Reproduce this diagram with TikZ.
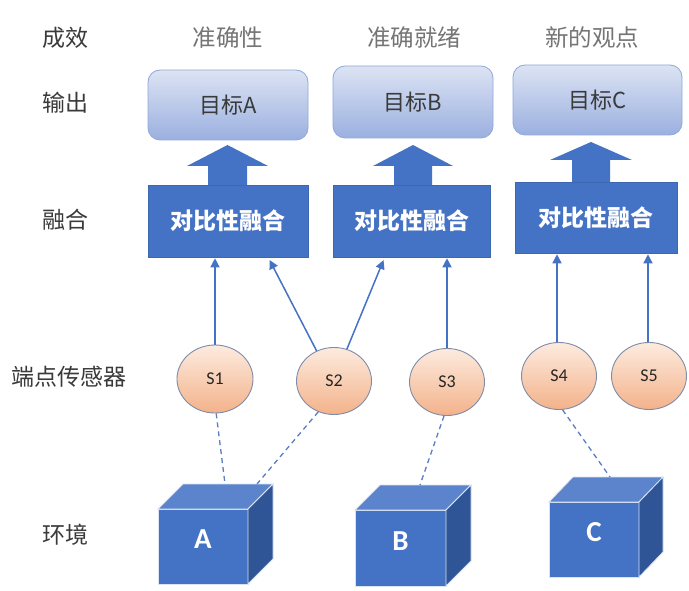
\documentclass[tikz,border=0pt]{standalone}
\usepackage{fontspec}
\setmainfont{Noto Sans CJK SC}
\newfontfamily\latinf{Carlito}
\usetikzlibrary{shapes.geometric,arrows.meta,calc}
\definecolor{mblue}{HTML}{4472C4}
\definecolor{dblue}{HTML}{2F5597}
\definecolor{tblue}{HTML}{5B84CC}
\definecolor{dashc}{HTML}{5B7DC2}
\definecolor{outtop}{HTML}{DCE3F3}
\definecolor{outbot}{HTML}{9BB0E0}
\definecolor{outedge}{HTML}{8EA9DB}
\definecolor{sentop}{HTML}{FDEBDF}
\definecolor{senbot}{HTML}{F3B28A}
\definecolor{senedge}{HTML}{7F8CA8}
\definecolor{lblc}{HTML}{3A3A3A}
\definecolor{topc}{HTML}{757575}
\tikzset{
  rowlabel/.style={text=lblc, font=\fontsize{23}{27}\selectfont, inner sep=0pt},
  toplabel/.style={text=topc, font=\fontsize{23.5}{27}\selectfont, inner sep=0pt},
  outbox/.style={rectangle, rounded corners=12pt, top color=outtop, bottom color=outbot,
    draw=outedge, line width=0.8pt, text=lblc, font=\fontsize{22}{26}\selectfont, inner sep=0pt},
  fusebox/.style={rectangle, fill=mblue, draw=mblue!90!black, line width=0.6pt, text=white,
    font=\fontsize{23}{27}\selectfont\bfseries, inner sep=0pt},
  sensor/.style={ellipse, top color=sentop, bottom color=senbot, draw=senedge, line width=0.9pt,
    minimum width=76pt, minimum height=68pt, inner sep=0pt, text=black!85,
    font=\latinf\fontsize{18}{20}\selectfont},
  conn/.style={draw=mblue, line width=1.5pt, -{Triangle[length=9pt,width=9pt]}},
  dconn/.style={draw=dashc, line width=1.3pt, dash pattern=on 5pt off 4pt},
  cubefront/.style={rectangle, fill=mblue, draw=white!80!mblue, line width=0.8pt, outer sep=0pt,
    inner sep=0pt, text=white, font=\latinf\bfseries\fontsize{28}{30}\selectfont},
  cubetop/.style={fill=tblue, draw=white!80!mblue, line width=0.8pt},
  cuberight/.style={fill=dblue, draw=white!80!mblue, line width=0.8pt},
  fatarrow/.style={fill=mblue},
}
\newcommand{\envcube}[7]{%
  \node[cubefront, minimum width=#4, minimum height=#5, anchor=north west] (#1) at (#2,#3) {};
  \fill[cubetop] (#1.north west) -- ++(#7,-25) -- ++(#4,0) -- (#1.north east) -- cycle;
  \fill[cuberight] (#1.north east) -- ++(#7,-25) -- ++(0,#5) -- (#1.south east) -- cycle;
  \node[text=white, font=\latinf\bfseries\fontsize{29}{31}\selectfont, inner sep=0pt]
    (#1t) at ($(#1.center)+(0,-7)$) {#6};
}
\newcommand{\blockarrow}[7]{% cx, bottom, base, tip, halfhead, halfstem, name
  \fill[fatarrow] (#1-#6,#2) -- (#1-#6,#3) -- (#1-#5,#3) -- (#1,#4) -- (#1+#5,#3)
    -- (#1+#6,#3) -- (#1+#6,#2) -- cycle;
}
\begin{document}
\begin{tikzpicture}[x=1pt,y=-1pt]
\useasboundingbox[fill=white] (0,0) rectangle (689,591);

% row labels
\node[rowlabel] (l1) at (65,38) {成效};
\node[rowlabel] (l2) at (65,103) {输出};
\node[rowlabel] (l3) at (65,220) {融合};
\node[rowlabel] (l4) at (69,377) {端点传感器};
\node[rowlabel] (l5) at (65,535) {环境};

% top labels
\node[toplabel] (t1) at (228,38) {准确性};
\node[toplabel] (t2) at (414,38) {准确就绪};
\node[toplabel] (t3) at (592,38) {新的观点};

% output boxes
\node[outbox, minimum width=160pt, minimum height=70pt] (oA) at (228,105) {目标A};
\node[outbox, minimum width=160pt, minimum height=72pt] (oB) at (413,102) {目标B};
\node[outbox, minimum width=169pt, minimum height=70pt] (oC) at (597.5,100) {目标C};

% fusion boxes
\node[fusebox, minimum width=160pt, minimum height=72pt] (fA) at (228,221) {对比性融合};
\node[fusebox, minimum width=157pt, minimum height=72pt] (fB) at (411.5,221) {对比性融合};
\node[fusebox, minimum width=162pt, minimum height=71pt] (fC) at (596,217.5) {对比性融合};

% block arrows
\blockarrow{227.5}{185}{166}{145}{40.5}{19.5}{bA}
\blockarrow{413}{185}{166}{145}{40}{19}{bB}
\blockarrow{591}{182}{160}{142}{41}{19}{bC}

% sensors
\node[sensor] (s1) at (215,379) {S1};
\node[sensor, minimum width=75pt, minimum height=67pt] (s2) at (334,381) {S2};
\node[sensor, minimum width=75pt, minimum height=67pt] (s3) at (447,382) {S3};
\node[sensor, minimum width=75pt, minimum height=67pt] (s4) at (559,376) {S4};
\node[sensor, minimum width=75pt, minimum height=67pt] (s5) at (649,376) {S5};

% cubes
\envcube{cA}{158}{509}{90}{75}{A}{25}
\envcube{cB}{355}{510}{91}{76}{B}{25}
\envcube{cC}{549}{502}{90}{75}{C}{24}

% sensor -> fusion arrows
\draw[conn, shorten >=1pt] (s1.north) -- (s1.north |- fA.south);
\draw[conn, shorten >=3pt] (s2.120) -- ($(fA.south west)!0.75!(fA.south east)$);
\draw[conn, shorten >=3pt] (s2.68) -- ($(fB.south west)!0.33!(fB.south east)$);
\draw[conn, shorten >=1pt] (s3.north) -- (s3.north |- fB.south);
\draw[conn, shorten >=1pt] ($(s4.north)+(-2,0)$) -- ($(s4.north |- fC.south)+(-2,0)$);
\draw[conn, shorten >=1pt] ($(s5.north)+(-1,0)$) -- ($(s5.north |- fC.south)+(-1,0)$);

% dashed environment links
\draw[dconn] (s1.-88) -- ($(cA.north west)+(67,-25)$);
\draw[dconn] (s2.-117) -- ($(cA.north west)+(99,-25)$);
\draw[dconn] (s3.-95) -- ($(cB.north west)+(65,-25)$);
\draw[dconn] (s4.-84) -- ($(cC.north west)+(61,-25)$);
\end{tikzpicture}
\end{document}
